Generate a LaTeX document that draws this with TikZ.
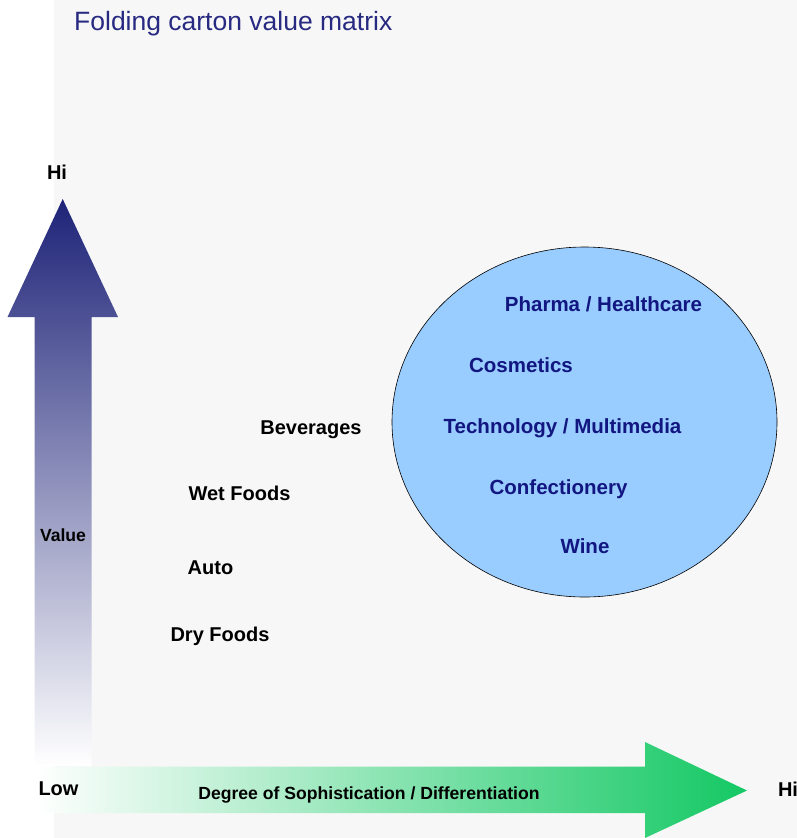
\documentclass[tikz,border=0pt]{standalone}
\usepackage{fontspec}
\setmainfont{Liberation Sans}
\definecolor{bggray}{RGB}{247,247,247}
\definecolor{navyarrow}{RGB}{30,35,120}
\definecolor{titleblue}{RGB}{40,42,130}
\definecolor{inkblue}{RGB}{18,22,128}
\definecolor{circblue}{RGB}{153,204,255}
\definecolor{arrowgreen}{RGB}{20,200,100}
\definecolor{palegreen}{RGB}{190,234,204}
\begin{document}
\begin{tikzpicture}[x=1pt,y=-1pt,
    lbl/.style={inner sep=0pt,font=\bfseries\fontsize{20}{24}\selectfont},
    smalllbl/.style={inner sep=0pt,font=\bfseries\fontsize{17.6}{21}\selectfont},
    inlbl/.style={inner sep=0pt,text=inkblue,font=\bfseries\fontsize{20.5}{24}\selectfont}]
      \useasboundingbox (0,0) rectangle (797,838);
      \fill[bggray] (54,0) rectangle (797,838);
      \node[anchor=base west,inner sep=0pt,text=titleblue,font=\fontsize{26.5}{30}\selectfont] (title) at (74,30.5) {Folding carton value matrix};
      % value axis
      \shade[top color=navyarrow,bottom color=white] (34.5,766) -- (34.5,317) -- (7.5,317) -- (62.7,199) -- (118,317) -- (91.7,317) -- (91.7,766) -- cycle;
      \node[lbl] (vhi) at (57,172) {Hi};
      \node[smalllbl] (value) at (63,535) {Value};
      % sophistication axis
      \shade[left color=white,middle color=palegreen,right color=arrowgreen] (34.5,766.5) -- (645,766.5) -- (645,742) -- (747,790.5) -- (645,838) -- (645,813) -- (34.5,813) -- cycle;
      \node[lbl] (low) at (58.5,789) {Low};
      \node[smalllbl] (degree) at (369,795) {Degree of Sophistication / Differentiation};
      \node[lbl] (hhi) at (788,789) {Hi};
      % low value markets
      \node[lbl] (bev) at (311,429.5) {Beverages};
      \node[lbl] (wet) at (239.5,493) {Wet Foods};
      \node[lbl] (auto) at (210.5,568) {Auto};
      \node[lbl] (dry) at (220,636.5) {Dry Foods};
      % high value markets
      \draw[fill=circblue,line width=0.6pt] (584.5,422) ellipse [x radius=192.5pt,y radius=175pt];
      \node[inlbl] (pharma) at (603.5,304) {Pharma / Healthcare};
      \node[inlbl] (cosm) at (521,365) {Cosmetics};
      \node[inlbl] (tech) at (562.5,428.5) {Technology / Multimedia};
      \node[inlbl] (conf) at (558.5,489.5) {Confectionery};
      \node[inlbl] (wine) at (585,546) {Wine};
    \end{tikzpicture}
\end{document}
